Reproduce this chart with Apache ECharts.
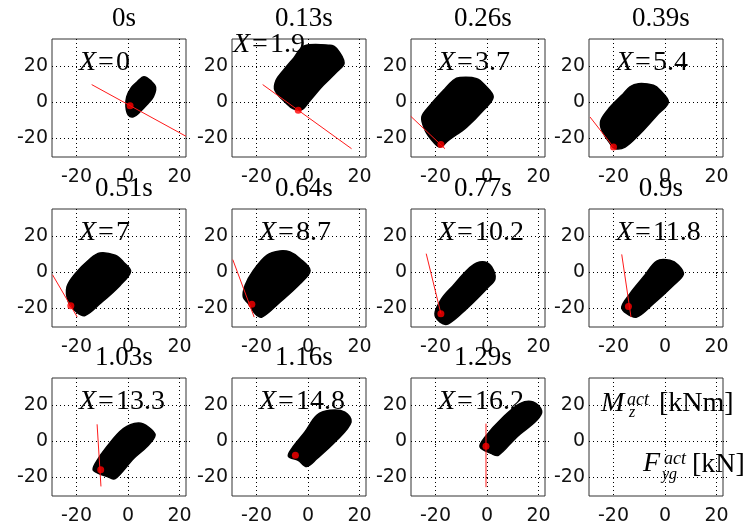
<!DOCTYPE html>
<html>
<head>
<meta charset="utf-8">
<script src="https://cdn.jsdelivr.net/npm/echarts@6/dist/echarts.min.js"></script>
<style>
  html, body { margin: 0; padding: 0; background: #fff; }
  #chart { width: 743px; height: 528px; }
</style>
</head>
<body>
<div id="chart"></div>
<script>
// Snapshot times and the X value printed in each panel
const snapshotTimes = ['0s', '0.13s', '0.26s', '0.39s', '0.51s', '0.64s', '0.77s', '0.9s', '1.03s', '1.16s', '1.29s', ''];
const xValues = ['0', '1.9', '3.7', '5.4', '7', '8.7', '10.2', '11.8', '13.3', '14.8', '16.2'];
const tickValues = [-20, 0, 20];
const xRange = [-29.5, 22.5];
const yRange = [-30.5, 35];

// Reachable force region per snapshot, outline as [F_yg, M_z]
const envelope0 = [[6.2, 14.1], [9.2, 11.3], [10.7, 8.2], [9.8, 2.9], [7.2, -1.7], [4.7, -5.4], [2.1, -8.2], [0.1, -7.2], [-0.8, -2.6], [-0.5, 2.9], [1.4, 8.2], [3.6, 11.3]];
const envelope1 = [[-1.5, 31.2], [8.5, 31.5], [11.1, 29.7], [14, 21.7], [11.1, 16.7], [5.9, 9.3], [0.8, 0.9], [-2.4, -4.2], [-5.7, -3.7], [-8.3, -0.9], [-12.8, 6.5], [-12.4, 12.1], [-9.6, 17.6], [-5.5, 24.5]];
const envelope2 = [[-10.5, 13.6], [-4.0, 13.0], [-0.8, 9.3], [2.4, 2.8], [-1.4, -4.6], [-7.9, -13.9], [-15, -21.3], [-18.2, -25], [-20.8, -22.2], [-24, -15.7], [-25.3, -8.3], [-22.1, -1.8], [-16.9, 6.5], [-13.1, 12.1]];
const envelope3 = [[-13.6, 8.5], [-10.3, 10.2], [-4.5, 9.3], [-1.9, 6.5], [1.3, 0], [-3.2, -7.4], [-9.7, -17.6], [-15.5, -25], [-19.4, -25.9], [-21.3, -23.1], [-24.5, -15.7], [-24.9, -10.2], [-21.3, -2.8], [-16.8, 3.7]];
const envelope4 = [[-14.7, 7.4], [-10.9, 10.6], [-5.0, 9.3], [-1.8, 5.6], [1.0, 0.4], [-3.1, -7.4], [-10.9, -17.6], [-16.7, -24.1], [-19.9, -22.2], [-23.1, -16.7], [-23.7, -8.3], [-20.5, -0.9]];
const envelope5 = [[-16, 9.3], [-10.9, 11.7], [-7, 11.1], [-3.1, 7.4], [0.8, 0.9], [-3.1, -6.5], [-10.9, -16.7], [-17.9, -25], [-20.5, -23.1], [-23.1, -17.6], [-25.1, -13.9], [-24.4, -7.4], [-21.2, 0.9]];
const envelope6 = [[-4, 5], [-0.8, 5.6], [1.8, 2.8], [3.1, -3.7], [-0.1, -9.2], [-7.9, -20.3], [-15, -28.7], [-18.2, -27.8], [-20.2, -23.1], [-17.6, -14.8], [-13.1, -7.4], [-7.9, 0.9]];
const envelope7 = [[-3.2, 6.1], [1.9, 6.5], [5.2, 3.7], [7.1, -1.3], [3.2, -7.4], [-4.5, -17.6], [-11, -25], [-14.8, -23.1], [-16.8, -19.4], [-13.6, -12], [-8.4, -2.8]];
const envelope8 = [[-1.8, 6.9], [4, 10], [7.9, 7.8], [10.5, 3.2], [7.2, -3.3], [2.1, -9.8], [-5, -20.9], [-7.6, -20], [-13.4, -16.3], [-12.8, -12.6], [-8.3, -3.3]];
const envelope9 = [[3.4, 14.3], [8.5, 17.1], [14.3, 16.1], [16.7, 10.6], [11.1, 0.4], [3.4, -9.8], [-0.5, -14.1], [-3.8, -10.7], [-7.6, -8.5], [-6.3, -4.2], [-1.2, 5]];
const envelope10 = [[12.8, 20.8], [17.9, 21.7], [21.2, 16.7], [19.3, 11.5], [11.5, 2.2], [4.4, -7.9], [1.8, -7], [-2.7, -3.3], [-0.8, 2.2], [6.3, 13.3]];

// Direction line through the operating point
const line0 = [[-14.1, 9.7], [22.5, -19]];
const line1 = [[-17.6, 9.7], [16.9, -25.9]];
const line2 = [[-29.6, -7.9], [-16.3, -25.9]];
const line3 = [[-29.1, -8.3], [-20, -25]];
const line4 = [[-29.3, -1.5], [-19.7, -25]];
const line5 = [[-29.2, 6.9], [-20.9, -25]];
const line6 = [[-23.6, 10.2], [-17.9, -23.1]];
const line7 = [[-16.8, 9.8], [-13.2, -25]];
const line8 = [[-12, 9.3], [-10.5, -25.2]];
const line9 = [];
const line10 = [[-0.4, 9.7], [-0.4, -25.6]];

// Operating point [F_yg, M_z]
const operatingPoints = [[0.8, -2.0], [-3.8, -4.6], [-17.9, -23.5], [-20, -25], [-22.2, -18.7], [-21.8, -17.9], [-17.9, -23.1], [-14.2, -19.1], [-10.6, -15.9], [-4.9, -7.9], [-0.4, -2.9]];

const envelopes = [envelope0, envelope1, envelope2, envelope3, envelope4, envelope5, envelope6, envelope7, envelope8, envelope9, envelope10];
const lines = [line0, line1, line2, line3, line4, line5, line6, line7, line8, line9, line10];

// Panel layout
const colLeft = [52, 232, 411, 589];
const rowTop = [39, 209, 378];
const panelW = 134, panelH = 118;
const serif = '"Liberation Serif", "Times New Roman", serif';
const sans = '"DejaVu Sans", sans-serif';

const grids = [], xAxes = [], yAxes = [], yAxesRight = [], series = [], graphics = [];

for (let i = 0; i < 12; i++) {
  const left = colLeft[i % 4], top = rowTop[Math.floor(i / 4)];
  grids.push({ left: left, top: top, width: panelW, height: panelH, show: true,
    borderColor: '#333', borderWidth: 1, backgroundColor: 'transparent' });
  xAxes.push({
    gridIndex: i, type: 'value', min: xRange[0], max: xRange[1],
    axisLine: { show: false },
    axisTick: { show: true, length: 4, customValues: tickValues, lineStyle: { color: '#000', type: [1, 2] } },
    axisLabel: { customValues: tickValues, fontFamily: sans, fontSize: 19, color: '#111', margin: 11 },
    splitLine: { show: true, lineStyle: { color: '#000', width: 1, type: [1, 3] } }
  });
  yAxes.push({
    gridIndex: i, type: 'value', min: yRange[0], max: yRange[1],
    axisLine: { show: false },
    axisTick: { show: true, length: 6, customValues: tickValues, lineStyle: { color: '#000', type: [1, 2] } },
    axisLabel: { customValues: tickValues, fontFamily: sans, fontSize: 19, color: '#111', margin: 4 },
    splitLine: { show: true, lineStyle: { color: '#000', width: 1, type: [1, 3] } }
  });
  yAxesRight.push({
    gridIndex: i, type: 'value', position: 'right', min: yRange[0], max: yRange[1],
    axisLine: { show: false },
    axisTick: { show: true, length: 6, customValues: tickValues, lineStyle: { color: '#000', type: [1, 2] } },
    axisLabel: { show: false },
    splitLine: { show: false }
  });

  // Panel title (time stamp)
  if (snapshotTimes[i]) {
    graphics.push({
      type: 'text', x: left + panelW / 2 + 5, y: top - 20, z: 10,
      style: { text: snapshotTimes[i], font: '27px ' + serif, fill: '#000', align: 'center', verticalAlign: 'middle' }
    });
  }
}

for (let i = 0; i < 11; i++) {
  const left = colLeft[i % 4], top = rowTop[Math.floor(i / 4)];
  const tx = i === 1 ? left + 1 : left + 27;
  const ty = i === 1 ? top + 6 : top + 24;
  // "X = value" label sits under the region
  graphics.push({
    type: 'text', x: tx, y: ty, z: 0,
    style: {
      text: '{i|X}{e|=}{n|' + xValues[i] + '}',
      align: 'left', verticalAlign: 'middle',
      rich: {
        i: { fontFamily: serif, fontStyle: 'italic', fontSize: 28, fill: '#000', padding: [0, 2, 0, 0] },
        e: { fontFamily: serif, fontSize: 28, fill: '#000', padding: [0, 2, 0, 0] },
        n: { fontFamily: serif, fontSize: 28, fill: '#000' }
      }
    }
  });

  const env = envelopes[i];
  series.push({
    type: 'custom', xAxisIndex: i, yAxisIndex: i, z: 3, clip: true,
    data: env,
    renderItem: function (params, api) {
      if (params.dataIndex !== 0) return null;
      const pts = env.map(function (p) { return api.coord(p); });
      return { type: 'polygon', shape: { points: pts, smooth: 0.35 }, style: { fill: '#000', stroke: '#000', lineWidth: 1.5 } };
    }
  });
  series.push({
    type: 'line', xAxisIndex: i, yAxisIndex: i, z: 4, data: lines[i],
    showSymbol: false, silent: true, clip: true,
    lineStyle: { color: '#ff1a1a', width: 1 }
  });
  series.push({
    type: 'scatter', xAxisIndex: i, yAxisIndex: i, z: 5, data: [operatingPoints[i]],
    symbol: 'circle', symbolSize: 7, itemStyle: { color: '#ff0000' }, silent: true
  });
}

// Axis legend text in the last panel
const lx = colLeft[3], ly = rowTop[2];
graphics.push(
  { type: 'text', x: lx + 12, y: ly + 26, z: 10, style: { text: 'M', font: 'italic 28px ' + serif, fill: '#000', align: 'left', verticalAlign: 'middle' } },
  { type: 'text', x: lx + 38, y: ly + 22, z: 10, style: { text: 'act', font: 'italic 18px ' + serif, fill: '#000', align: 'left', verticalAlign: 'middle' } },
  { type: 'text', x: lx + 40, y: ly + 35, z: 10, style: { text: 'z', font: 'italic 16px ' + serif, fill: '#000', align: 'left', verticalAlign: 'middle' } },
  { type: 'text', x: lx + 70, y: ly + 26, z: 10, style: { text: '[kNm]', font: '28px ' + serif, fill: '#000', align: 'left', verticalAlign: 'middle' } },
  { type: 'text', x: lx + 54, y: ly + 86, z: 10, style: { text: 'F', font: 'italic 28px ' + serif, fill: '#000', align: 'left', verticalAlign: 'middle' } },
  { type: 'text', x: lx + 75, y: ly + 81, z: 10, style: { text: 'act', font: 'italic 18px ' + serif, fill: '#000', align: 'left', verticalAlign: 'middle' } },
  { type: 'text', x: lx + 73, y: ly + 97, z: 10, style: { text: 'yg', font: 'italic 16px ' + serif, fill: '#000', align: 'left', verticalAlign: 'middle' } },
  { type: 'text', x: lx + 103, y: ly + 87, z: 10, style: { text: '[kN]', font: '28px ' + serif, fill: '#000', align: 'left', verticalAlign: 'middle' } }
);

const chart = echarts.init(document.getElementById('chart'), null, { renderer: 'canvas' });
chart.setOption({
  animation: false,
  backgroundColor: '#fff',
  grid: grids,
  xAxis: xAxes,
  yAxis: yAxes.concat(yAxesRight),
  series: series,
  graphic: { elements: graphics }
});
</script>
</body>
</html>
